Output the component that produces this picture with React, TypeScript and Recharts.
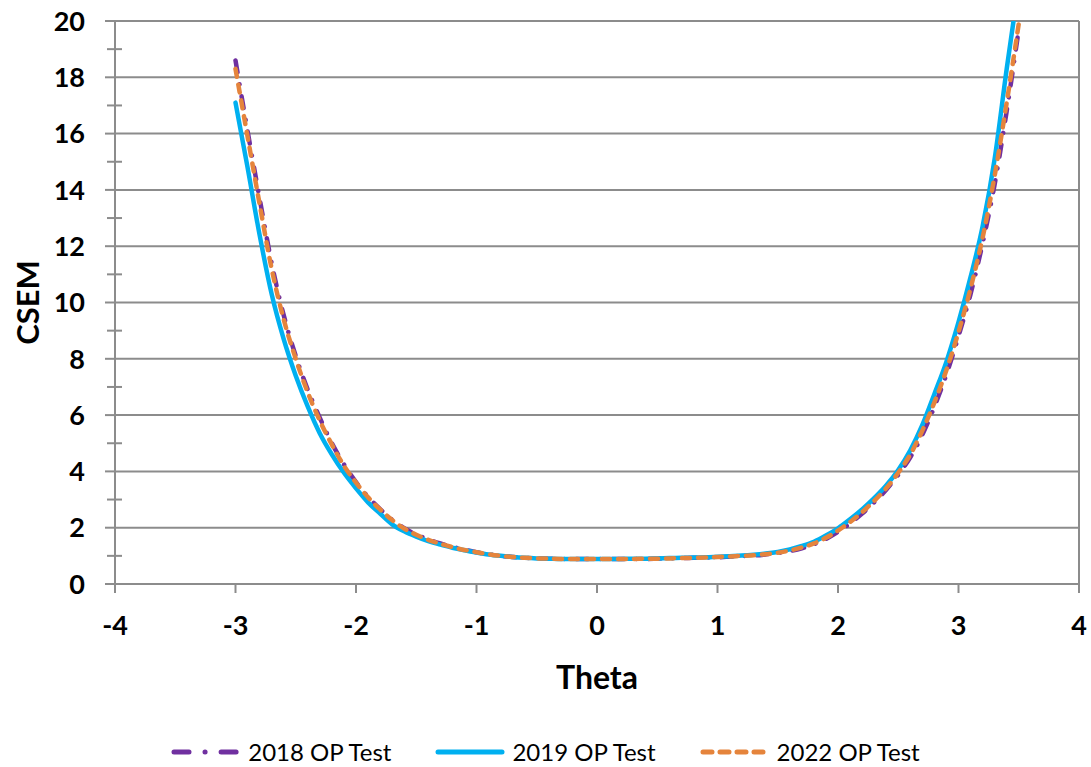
import React from 'react';
import { LineChart, Line, XAxis, YAxis, ReferenceLine, Legend, Label } from 'recharts';

const THETA = [
  -3.0, -2.9, -2.8, -2.7, -2.6, -2.5, -2.4, -2.3, -2.2, -2.1,
  -2.0, -1.9, -1.8, -1.7, -1.6, -1.5, -1.4, -1.3, -1.2, -1.1,
  -1.0, -0.9, -0.8, -0.7, -0.6, -0.5, -0.4, -0.3, -0.2, -0.1,
  0.0, 0.1, 0.2, 0.3, 0.4, 0.5, 0.6, 0.7, 0.8, 0.9,
  1.0, 1.1, 1.2, 1.3, 1.4, 1.5, 1.6, 1.7, 1.8, 1.9,
  2.0, 2.1, 2.2, 2.3, 2.4, 2.5, 2.6, 2.7, 2.8, 2.9,
  3.0, 3.1, 3.2, 3.3, 3.4, 3.5,
];

const CSEM_2018 = [
  18.6, 16.1, 13.7, 11.4, 9.55, 8.1, 6.9, 5.9, 5.0, 4.25,
  3.62, 3.1, 2.66, 2.28, 1.98, 1.76, 1.58, 1.44, 1.32, 1.22,
  1.13, 1.06, 1.0, 0.96, 0.93, 0.91, 0.9, 0.89, 0.89, 0.89,
  0.89, 0.89, 0.89, 0.89, 0.89, 0.9, 0.91, 0.92, 0.93, 0.94,
  0.95, 0.97, 0.99, 1.01, 1.05, 1.1, 1.17, 1.27, 1.41, 1.6,
  1.85, 2.15, 2.5, 2.9, 3.35, 3.88, 4.5, 5.3, 6.3, 7.45,
  8.8, 10.3, 12.1, 14.2, 16.8, 19.7,
];

const CSEM_2019 = [
  17.1, 14.8, 12.4, 10.3, 8.7, 7.4, 6.3, 5.35, 4.6, 3.95,
  3.4, 2.9, 2.5, 2.12, 1.87, 1.68, 1.52, 1.4, 1.29, 1.2,
  1.12, 1.05, 1.0, 0.96, 0.93, 0.91, 0.9, 0.89, 0.89, 0.89,
  0.89, 0.89, 0.89, 0.9, 0.9, 0.91, 0.92, 0.93, 0.94, 0.95,
  0.97, 0.99, 1.01, 1.04, 1.08, 1.14, 1.23, 1.35, 1.5, 1.72,
  1.98, 2.3, 2.65, 3.05, 3.5, 4.05, 4.75, 5.65, 6.75, 7.9,
  9.3, 10.9, 12.7, 15.1, 18.3, 21.3,
];

const CSEM_2022 = [
  18.3, 15.9, 13.5, 11.2, 9.4, 8.0, 6.8, 5.8, 4.95, 4.2,
  3.6, 3.08, 2.65, 2.27, 1.97, 1.75, 1.57, 1.43, 1.31, 1.21,
  1.13, 1.06, 1.0, 0.96, 0.93, 0.91, 0.9, 0.89, 0.89, 0.89,
  0.89, 0.89, 0.89, 0.89, 0.9, 0.9, 0.91, 0.92, 0.93, 0.94,
  0.96, 0.98, 1.0, 1.02, 1.06, 1.11, 1.19, 1.3, 1.44, 1.64,
  1.9, 2.2, 2.55, 2.95, 3.4, 3.95, 4.6, 5.45, 6.45, 7.6,
  8.95, 10.5, 12.3, 14.5, 17.1, 19.9,
];

const X_TICKS = [-4, -3, -2, -1, 0, 1, 2, 3, 4];
const Y_TICKS = Array.from({ length: 21 }, (_, i) => i);
const Y_GRID = [2, 4, 6, 8, 10, 12, 14, 16, 18, 20];

const SERIES = [
  { key: 'y2018', name: '2018 OP Test', color: '#7030a0', dash: '12 12 0.1 12', legendDash: '15 16 0.1 16 15', width: 4.5 },
  { key: 'y2019', name: '2019 OP Test', color: '#00b0f0', dash: undefined, legendDash: undefined, width: 4.5 },
  { key: 'y2022', name: '2022 OP Test', color: '#e5843c', dash: '8 8', legendDash: '9 8', width: 4.5 },
];

const data = THETA.map((t, i) => ({
  theta: t,
  y2018: CSEM_2018[i],
  y2019: CSEM_2019[i],
  y2022: CSEM_2022[i],
}));

const FONT = 'Lato, "Open Sans", sans-serif';
const GRID = '#8c8c8c';
const TICK_SIZE = 10;
const TICK_MARGIN = 20;

const YTick = (props: any) => {
  const { x, y, payload } = props;
  const ax = x + TICK_SIZE + TICK_MARGIN;
  const v = payload.value;
  const major = v % 2 === 0;
  return (
    <g>
      {major ? (
        <line x1={ax - TICK_SIZE} x2={ax} y1={y} y2={y} stroke={GRID} strokeWidth={2} />
      ) : (
        <line x1={ax - 8} x2={ax + 7} y1={y} y2={y} stroke={GRID} strokeWidth={2} />
      )}
      {major && (
        <text x={x} y={y} dy="0.36em" textAnchor="end" fontFamily={FONT} fontWeight={700} fontSize={27} fill="#000">
          {v}
        </text>
      )}
    </g>
  );
};

const renderLegend = () => (
  <div
    style={{
      display: 'flex',
      justifyContent: 'center',
      alignItems: 'center',
      gap: 44,
      fontFamily: FONT,
      fontSize: 24,
      color: '#000',
      paddingTop: 10,
    }}
  >
    {SERIES.map((s) => (
      <div key={s.key} style={{ display: 'flex', alignItems: 'center', gap: 7 }}>
        <svg width={70} height={12}>
          <line
            x1={3}
            x2={67}
            y1={6}
            y2={6}
            stroke={s.color}
            strokeWidth={5}
            strokeLinecap="round"
            strokeDasharray={s.legendDash}
          />
        </svg>
        <span>{s.name}</span>
      </div>
    ))}
  </div>
);

export default function App() {
  return (
    <div style={{ position: 'absolute', left: 0, top: 0, background: '#fff' }}>
      <LineChart width={1091} height={767} data={data} margin={{ top: 21, right: 12, left: 0, bottom: 0 }}>
        {Y_GRID.map((v) => (
          <ReferenceLine key={v} y={v} stroke={GRID} strokeWidth={2} ifOverflow="extendDomain" />
        ))}
        <ReferenceLine x={4} stroke={GRID} strokeWidth={2} />
        <XAxis
          dataKey="theta"
          type="number"
          domain={[-4, 4]}
          ticks={X_TICKS}
          interval={0}
          height={143}
          tickSize={9}
          tickMargin={23}
          axisLine={{ stroke: GRID, strokeWidth: 2 }}
          tickLine={{ stroke: GRID, strokeWidth: 2 }}
          tick={{ fill: '#000', fontSize: 27, fontWeight: 700, fontFamily: FONT }}
        >
          <Label
            content={(p: any) => {
              const vb = p.viewBox;
              return (
                <text
                  x={vb.x + vb.width / 2}
                  y={vb.y + 105}
                  textAnchor="middle"
                  fontFamily={FONT}
                  fontWeight={700}
                  fontSize={32}
                  fill="#000"
                >
                  Theta
                </text>
              );
            }}
          />
        </XAxis>
        <YAxis
          type="number"
          domain={[0, 20]}
          ticks={Y_TICKS}
          interval={0}
          width={115}
          allowDataOverflow
          tickSize={TICK_SIZE}
          tickMargin={TICK_MARGIN}
          tickLine={false}
          axisLine={{ stroke: GRID, strokeWidth: 2 }}
          tick={<YTick />}
        >
          <Label
            content={(p: any) => {
              const vb = p.viewBox;
              const cx = 28;
              const cy = vb.y + vb.height / 2;
              return (
                <text
                  x={cx}
                  y={cy}
                  dy="0.36em"
                  textAnchor="middle"
                  transform={`rotate(-90, ${cx}, ${cy})`}
                  fontFamily={FONT}
                  fontWeight={700}
                  fontSize={31}
                  fill="#000"
                >
                  CSEM
                </text>
              );
            }}
          />
        </YAxis>
        <Legend verticalAlign="bottom" content={renderLegend} wrapperStyle={{ left: 0, width: 1091, height: 40, bottom: 0 }} />
        {SERIES.map((s) => (
          <Line
            key={s.key}
            dataKey={s.key}
            name={s.name}
            type="monotone"
            stroke={s.color}
            strokeWidth={s.width}
            strokeDasharray={s.dash}
            strokeLinecap="round"
            dot={false}
            activeDot={false}
            isAnimationActive={false}
          />
        ))}
      </LineChart>
    </div>
  );
}
